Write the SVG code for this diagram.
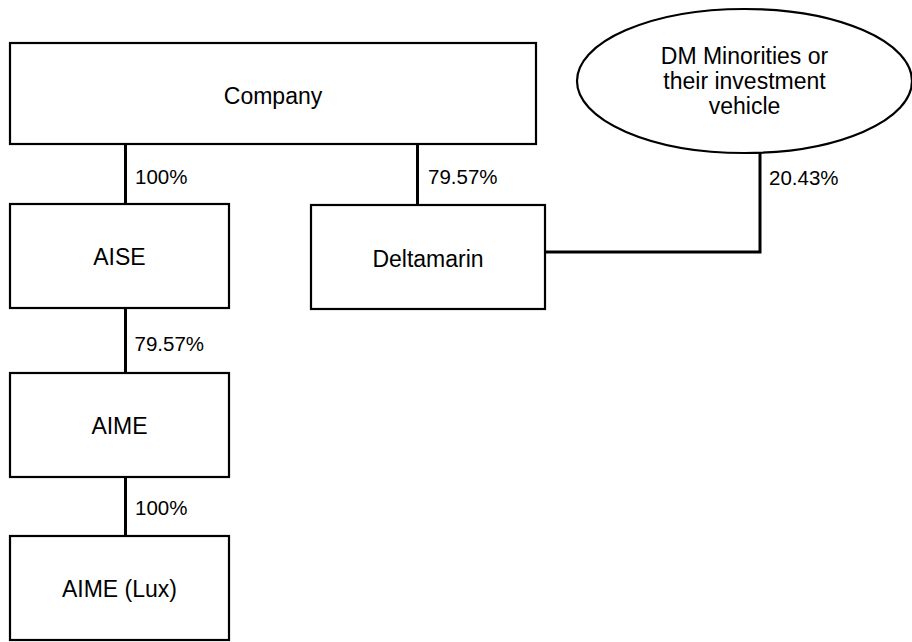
<svg xmlns="http://www.w3.org/2000/svg" width="912" height="642" viewBox="0 0 912 642">
<style>
.box{fill:#fff;stroke:#000;stroke-width:2.2}
.conn{fill:none;stroke:#000;stroke-width:3}
.t{font-family:"Liberation Sans",Arial,sans-serif;font-size:23px;fill:#000;text-anchor:middle}
.lbl{font-family:"Liberation Sans",Arial,sans-serif;font-size:20.5px;fill:#000}
</style>
<rect width="912" height="642" fill="#fff"/>
<g id="connectors">
<line class="conn" x1="125.5" y1="144" x2="125.5" y2="204"/>
<line class="conn" x1="417.5" y1="144" x2="417.5" y2="205"/>
<line class="conn" x1="125.5" y1="308" x2="125.5" y2="373"/>
<line class="conn" x1="125.5" y1="477" x2="125.5" y2="536"/>
<polyline class="conn" points="760,153 760,252 545,252"/>
<text class="lbl" x="135" y="184">100%</text>
<text class="lbl" x="428" y="183.5">79.57%</text>
<text class="lbl" x="769" y="185">20.43%</text>
<text class="lbl" x="134.5" y="350.5">79.57%</text>
<text class="lbl" x="135" y="515">100%</text>
</g>
<g id="company">
<rect class="box" x="10" y="43" width="526" height="101"/>
<text class="t" x="273" y="104">Company</text>
</g>
<g id="dm-minorities">
<ellipse class="box" cx="744.5" cy="81" rx="167.5" ry="72"/>
<text class="t" x="744.5" y="63.5">DM Minorities or</text>
<text class="t" x="744.5" y="88.5">their investment</text>
<text class="t" x="744.5" y="113.5">vehicle</text>
</g>
<g id="aise">
<rect class="box" x="10" y="204" width="219" height="104"/>
<text class="t" x="119.5" y="265">AISE</text>
</g>
<g id="deltamarin">
<rect class="box" x="311" y="205" width="234" height="104"/>
<text class="t" x="428" y="266.5">Deltamarin</text>
</g>
<g id="aime">
<rect class="box" x="10" y="373" width="219" height="104"/>
<text class="t" x="119.5" y="433.5">AIME</text>
</g>
<g id="aime-lux">
<rect class="box" x="10" y="536" width="219" height="104"/>
<text class="t" x="119.5" y="597">AIME (Lux)</text>
</g>
</svg>
